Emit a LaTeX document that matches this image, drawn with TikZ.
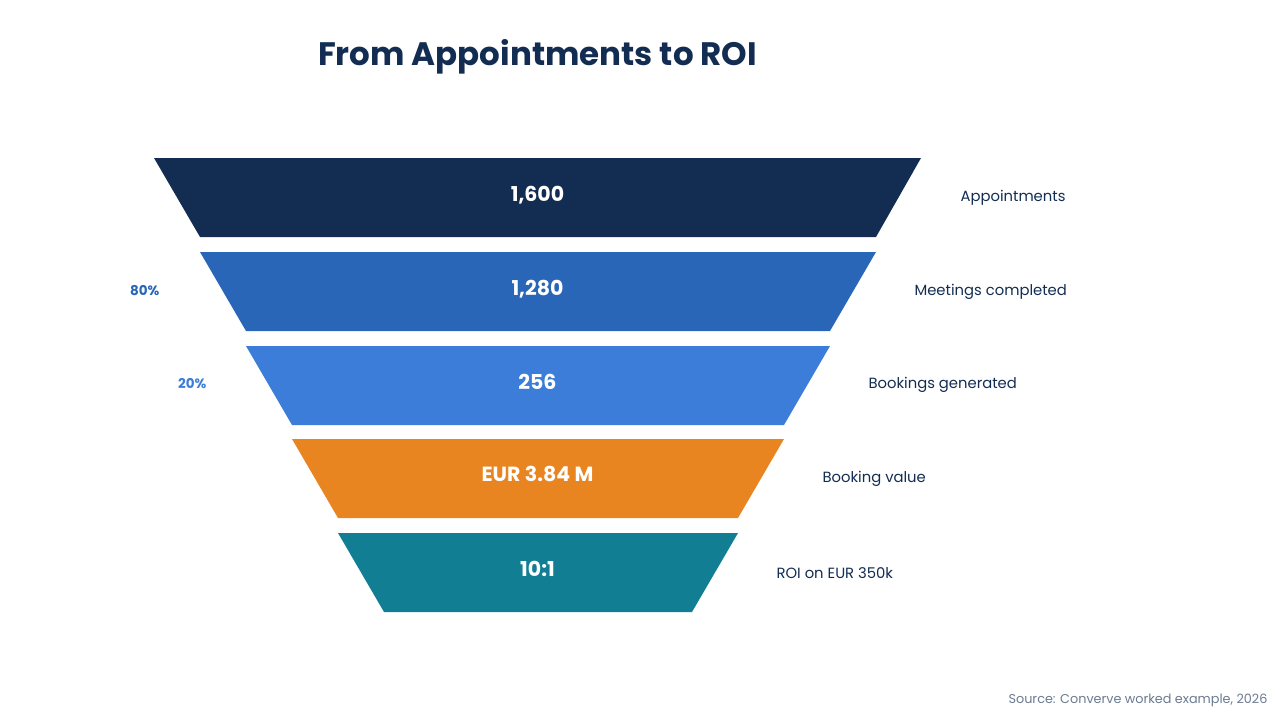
\documentclass[tikz,border=0pt]{standalone}
\usepackage{fontspec}
\setmainfont{Poppins}
\usepackage{tikz}

\definecolor{navy}{HTML}{132D52}
\definecolor{midblue}{HTML}{2966B8}
\definecolor{lightblue}{HTML}{3B7DD8}
\definecolor{amber}{HTML}{E98520}
\definecolor{teal}{HTML}{117E94}
\definecolor{srcgray}{HTML}{6B7A90}

\tikzset{
  value/.style={text=white, font=\fontsize{20.5}{24}\selectfont\bfseries},
  stage/.style={text=navy, anchor=west, font=\fontsize{14.8}{18}\selectfont},
  rate/.style={anchor=east, font=\fontsize{13.5}{16}\selectfont\bfseries},
}

\begin{document}
\begin{tikzpicture}[x=1pt, y=-1pt]
  \useasboundingbox (0,0) rectangle (1280,720);

  \node (title) at (537.5,57) {\fontsize{32.5}{38}\selectfont\bfseries\color{navy}From Appointments to ROI};

  % funnel
  \fill[navy]      (154,158) -- (921,158) -- (876,237) -- (200,237) -- cycle;
  \fill[midblue]   (200,252) -- (876,252) -- (830,331) -- (246,331) -- cycle;
  \fill[lightblue] (246,346) -- (830,346) -- (784,425) -- (292,425) -- cycle;
  \fill[amber]     (292,439) -- (784,439) -- (738,518) -- (338,518) -- cycle;
  \fill[teal]      (338,533) -- (738,533) -- (692,612) -- (384,612) -- cycle;

  \node[value] (v1) at (537.5,195) {1,600};
  \node[value] (v2) at (537.5,289) {1,280};
  \node[value] (v3) at (537.5,382) {256};
  \node[value] (v4) at (537.5,474) {EUR 3.84 M};
  \node[value] (v5) at (537.5,569) {10:1};

  \node[stage] (s1) at (957,198) {Appointments};
  \node[stage] (s2) at (911,292) {Meetings completed};
  \node[stage] (s3) at (865,385) {Bookings generated};
  \node[stage] (s4) at (819,479) {Booking value};
  \node[stage] (s5) at (773,573) {ROI on EUR 350k};

  \node[rate, text=midblue]   (r2) at (163,291) {80\%};
  \node[rate, text=lightblue] (r3) at (210,384) {20\%};

  \node[anchor=east, text=srcgray, font=\fontsize{12.8}{15}\selectfont] (src) at (1271,700) {Source: Converve worked example, 2026};
\end{tikzpicture}
\end{document}
